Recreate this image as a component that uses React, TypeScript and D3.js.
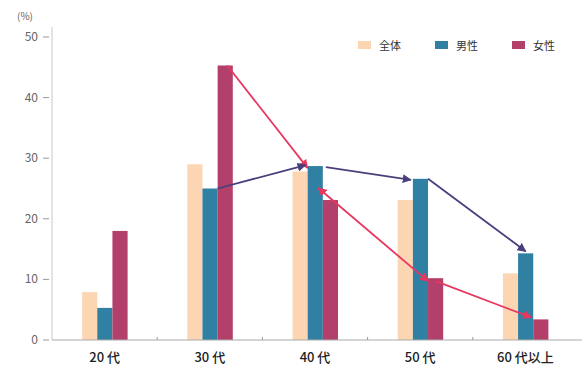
import React from "react";
import * as d3 from "d3";

const categories = ["20代", "30代", "40代", "50代", "60代以上"];
const categoryLabels = ["20 代", "30 代", "40 代", "50 代", "60 代以上"];
const seriesNames = ["全体", "男性", "女性"];
const allValues = [7.9, 29, 27.8, 23.1, 11];
const maleValues = [5.3, 25, 28.7, 26.6, 14.3];
const femaleValues = [18, 45.3, 23.1, 10.2, 3.4];
const yTicks = [0, 10, 20, 30, 40, 50];
const colors = ["#FCD6B2", "#2F80A2", "#B3406A"];

const W = 585;
const H = 370;
const left = 52;
const right = 578;
const bottom = 340;
const top = 37;

export default function App() {
  const x0 = d3.scaleBand<string>().domain(categories).range([left, right]).paddingInner(0).paddingOuter(0);
  const bw = x0.bandwidth();
  const x1 = d3.scaleBand<string>().domain(seriesNames).range([bw / 2 - 22.5, bw / 2 + 23]).padding(0);
  const y = d3.scaleLinear().domain([0, 50]).range([bottom, top]);
  const data = [allValues, maleValues, femaleValues];
  const font = "'Noto Sans CJK JP', 'Noto Sans', sans-serif";

  const cx = (ci: number, si: number) => (x0(categories[ci]) as number) + (x1(seriesNames[si]) as number);
  const w = x1.bandwidth();

  const purple = "#4A3F7C";
  const red = "#E8375F";
  const mArrows = [
    { x1: cx(1, 2), y1: y(maleValues[1]), x2: cx(2, 1) - 2, y2: y(maleValues[2]) - 1 },
    { x1: cx(2, 2) + 3, y1: y(maleValues[2]) + 1, x2: cx(3, 1) - 2, y2: y(maleValues[3]) + 1 },
    { x1: cx(3, 1) + w, y1: y(maleValues[3]), x2: cx(4, 1) + w / 2, y2: y(maleValues[4]) - 2 },
  ];
  const fArrows = [
    { x1: cx(1, 2) + w / 2 + 2, y1: y(femaleValues[1]), x2: cx(2, 1), y2: y(maleValues[2]) + 2, start: false },
    { x1: cx(2, 1) + w / 2 + 3, y1: y(femaleValues[2]) - 12, x2: cx(3, 2), y2: y(femaleValues[3]) + 3, start: true },
    { x1: cx(3, 2) + w / 2, y1: y(femaleValues[3]) + 3, x2: cx(4, 2) - 2, y2: y(femaleValues[4]) - 2, start: false },
  ];

  return (
    <svg width={W} height={H} style={{ position: "absolute", left: 0, top: 0, background: "#fff" }} fontFamily={font}>
      <defs>
        <marker id="ap" viewBox="0 0 10 10" refX="9" refY="5" markerWidth="5" markerHeight="5" orient="auto-start-reverse">
          <path d="M0,0 L10,5 L0,10 z" fill={purple} />
        </marker>
        <marker id="ar" viewBox="0 0 10 10" refX="9" refY="5" markerWidth="5" markerHeight="5" orient="auto-start-reverse">
          <path d="M0,0 L10,5 L0,10 z" fill={red} />
        </marker>
      </defs>
      <text x={17} y={20} fontSize={10} fill="#666">(%)</text>
      <line x1={left} x2={left} y1={top - 10} y2={bottom} stroke="#c8c8c8" strokeWidth={1} />
      {yTicks.map((t) => (
        <g key={t}>
          <line x1={43} x2={49} y1={y(t)} y2={y(t)} stroke="#999" strokeWidth={1} />
          <text x={38} y={y(t) + 4} fontSize={12} fill="#666" textAnchor="end">{t}</text>
        </g>
      ))}
      {data.map((vals, si) =>
        vals.map((v, ci) => (
          <rect key={`${si}-${ci}`} x={cx(ci, si)} y={y(v)} width={w} height={bottom - y(v)} fill={colors[si]} />
        ))
      )}
      <line x1={left} x2={right + 4} y1={bottom} y2={bottom} stroke="#aaa" strokeWidth={1} />
      {categories.slice(1).map((c) => (
        <line key={c} x1={x0(c) as number} x2={x0(c) as number} y1={bottom - 3} y2={bottom} stroke="#999" />
      ))}
      {categories.map((c, i) => (
        <text key={c} x={(x0(c) as number) + bw / 2} y={362} fontSize={13} fontWeight={500} fill="#222" textAnchor="middle">{categoryLabels[i]}</text>
      ))}
      {fArrows.map((a, i) => (
        <line key={`f${i}`} x1={a.x1} y1={a.y1} x2={a.x2} y2={a.y2} stroke={red} strokeWidth={1.8}
          markerEnd="url(#ar)" markerStart={a.start ? "url(#ar)" : undefined} />
      ))}
      {mArrows.map((a, i) => (
        <line key={`m${i}`} x1={a.x1} y1={a.y1} x2={a.x2} y2={a.y2} stroke={purple} strokeWidth={1.8} markerEnd="url(#ap)" />
      ))}
      {seriesNames.map((s, i) => (
        <g key={s} transform={`translate(${358 + i * 77},41)`}>
          <rect x={0} y={0} width={13} height={8} fill={colors[i]} />
          <text x={21} y={8.5} fontSize={11} fill="#333">{s}</text>
        </g>
      ))}
    </svg>
  );
}
